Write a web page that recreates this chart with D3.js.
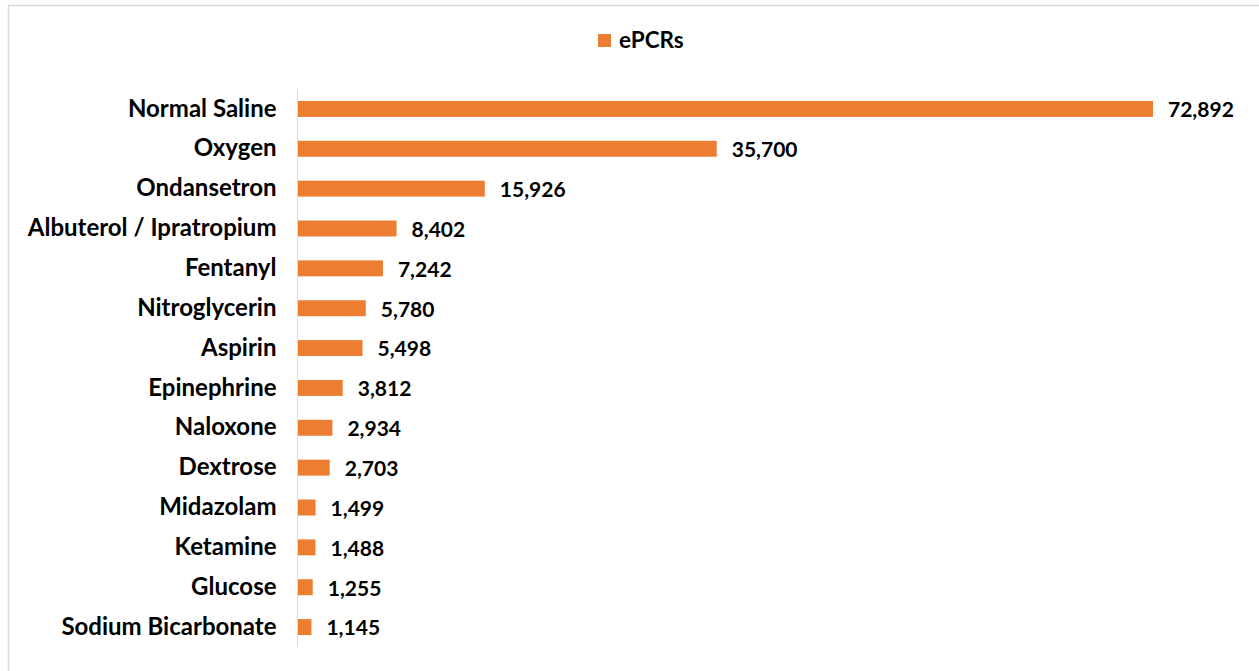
<!DOCTYPE html>
<html lang="en">
<head>
  <meta charset="UTF-8">
  <title>ePCRs by medication</title>
  <style>
    body { margin: 0; background: #fff; }
    text { font-family: Lato, "Open Sans", sans-serif; font-weight: bold; fill: #000; }
    .cat text { font-size: 24px; }
    .val { font-size: 21px; }
    .legend text { font-size: 22.5px; }
  </style>
</head>
<body>
  <div class="chart"></div>

  <script src="https://cdnjs.cloudflare.com/ajax/libs/d3/7.8.5/d3.min.js"></script>
  <script>
    // data
    const medications = ['Normal Saline', 'Oxygen', 'Ondansetron', 'Albuterol / Ipratropium',
      'Fentanyl', 'Nitroglycerin', 'Aspirin', 'Epinephrine', 'Naloxone', 'Dextrose',
      'Midazolam', 'Ketamine', 'Glucose', 'Sodium Bicarbonate'];
    const epcrs = [72892, 35700, 15926, 8402, 7242, 5780, 5498, 3812, 2934, 2703,
      1499, 1488, 1255, 1145];
    const seriesName = 'ePCRs';

    const width = 1259, height = 671;
    const orange = '#ed7d31', gray = '#d9d9d9';

    const svg = d3.select('.chart')
      .append('svg')
      .attr('width', width)
      .attr('height', height);

    // chart frame, right and bottom edges run off the page
    svg.append('rect')
      .attr('x', 8.5)
      .attr('y', 5.5)
      .attr('width', 1300)
      .attr('height', 700)
      .style('fill', 'none')
      .style('stroke', gray)
      .style('stroke-width', 1.5);

    const rows = medications.map((m, i) => ({ name: m, value: epcrs[i] }));

    const x = d3.scaleLinear()
      .domain([0, 72892])
      .range([298, 1153]);

    const y = d3.scaleBand()
      .domain(medications)
      .range([89, 647])
      .paddingInner(0.6)
      .paddingOuter(0.3);

    // category axis, ticks hidden, only the line and labels
    const yAxis = svg.append('g')
      .attr('class', 'cat')
      .attr('transform', 'translate(297.5,0)')
      .call(d3.axisLeft(y).tickSize(0).tickPadding(21));
    yAxis.select('.domain').attr('d', 'M0,89V647').style('stroke', gray);
    yAxis.selectAll('text').attr('font-family', null).attr('font-size', null);

    svg.append('g')
      .selectAll('rect')
      .data(rows)
      .join('rect')
      .attr('x', x(0))
      .attr('y', d => y(d.name))
      .attr('width', d => x(d.value) - x(0))
      .attr('height', y.bandwidth())
      .style('fill', orange);

    const fmt = d3.format(',');
    svg.append('g')
      .selectAll('text')
      .data(rows)
      .join('text')
      .attr('class', 'val')
      .attr('x', d => x(d.value) + 15)
      .attr('y', d => y(d.name) + y.bandwidth() / 2)
      .attr('dy', '0.4em')
      .text(d => fmt(d.value));

    // legend
    const legend = svg.append('g').attr('class', 'legend');
    legend.append('rect')
      .attr('x', 598).attr('y', 34)
      .attr('width', 13).attr('height', 13)
      .style('fill', orange);
    legend.append('text')
      .attr('x', 619).attr('y', 48)
      .text(seriesName);
  </script>
</body>
</html>
